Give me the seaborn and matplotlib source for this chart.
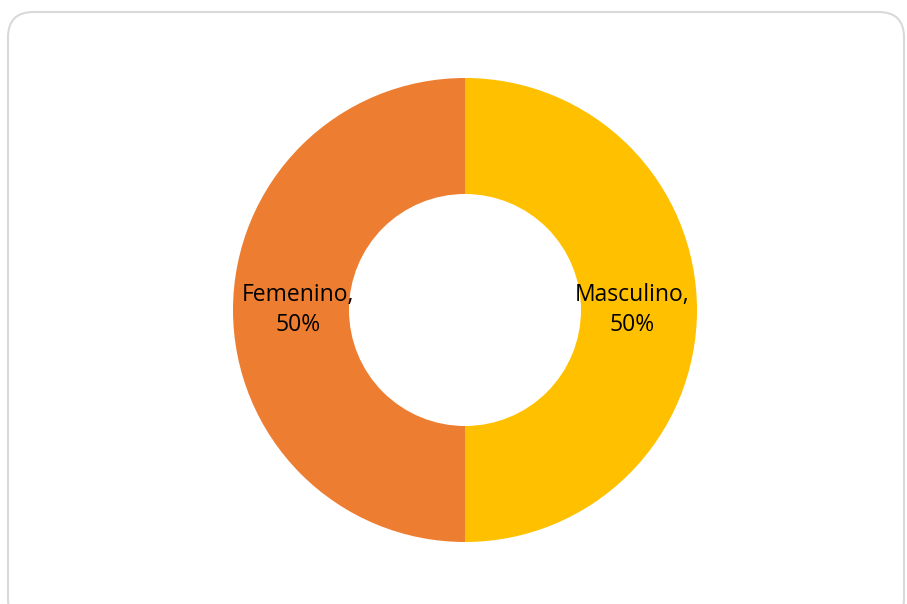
import numpy as np
import matplotlib
matplotlib.use("Agg")
import matplotlib.pyplot as plt
from matplotlib.patches import FancyBboxPatch
import seaborn as sns

# datos
categorias = ["Masculino", "Femenino"]
porcentajes = [50, 50]
colores = ["#FFC000", "#ED7D31"]

sns.set_theme(style="white")
plt.rcParams['font.family'] = ['Open Sans', 'DejaVu Sans']

fig = plt.figure(figsize=(9.07, 6.04), dpi=100)

# marco redondeado
marco = FancyBboxPatch((8 / 907, -20 / 604), 896 / 907, 612 / 604,
                       boxstyle="round,pad=0,rounding_size=0.028",
                       transform=fig.transFigure, fill=False,
                       edgecolor="#D9D9D9", linewidth=1.5, mutation_aspect=907 / 604)
fig.patches.append(marco)

ax = fig.add_axes([233 / 907, 62 / 604, 464 / 907, 464 / 604])
etiquetas = [f"{c},\n{p}%" for c, p in zip(categorias, porcentajes)]
wedges, textos = ax.pie(porcentajes, labels=etiquetas, colors=colores,
                        startangle=90, counterclock=False, radius=1,
                        labeldistance=0.72,
                        wedgeprops=dict(width=0.5, edgecolor="none"),
                        textprops=dict(fontsize=16.5, color="black", linespacing=1.3))
for t in textos:
    t.set_horizontalalignment("center")
    t.set_verticalalignment("center")
    t.set_multialignment("center")
ax.set_xlim(-1, 1)
ax.set_ylim(-1, 1)
ax.set_aspect("equal")
ax.axis("off")

fig.savefig("out.png", dpi=100)
